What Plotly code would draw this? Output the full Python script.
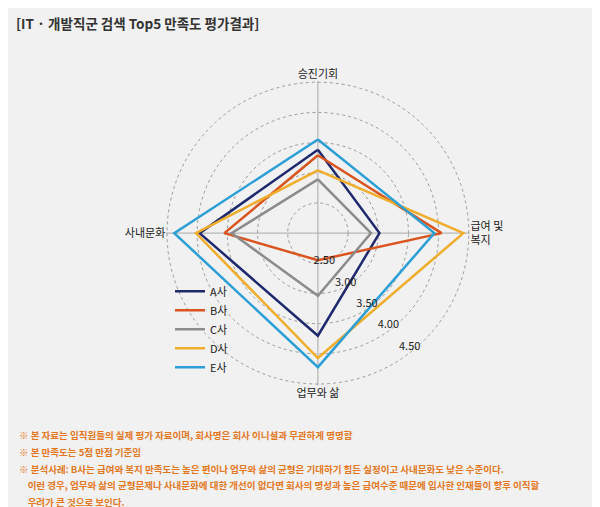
import plotly.graph_objects as go

categories = ["승진기회", "급여 및<br>복지", "업무와 삶", "사내문화"]
companies = ["A사", "B사", "C사", "D사", "E사"]
scores_a = [3.38, 3.02, 3.70, 3.96]
scores_b = [3.29, 4.05, 2.45, 3.55]
scores_c = [2.89, 2.88, 3.04, 3.43]
scores_d = [3.04, 4.41, 4.07, 4.02]
scores_e = [3.55, 3.93, 4.22, 4.38]
colors = ["#1f2a6e", "#d9541e", "#8c8c8c", "#efad2b", "#2b9fd6"]
tick_vals = [2.5, 3.0, 3.5, 4.0, 4.5]
tick_text = ["2.50", "3.00", "3.50", "4.00", "4.50"]
notes = [
    "※ 본 자료는 임직원들의 실제 평가 자료이며, 회사명은 회사 이니셜과 무관하게 명명함",
    "※ 본 만족도는 5점 만점 기준임",
    "※ 분석사례: B사는 급여와 복지 만족도는 높은 편이나 업무와 삶의 균형은 기대하기 힘든 실정이고 사내문화도 낮은 수준이다.",
    "    이런 경우, 업무와 삶의 균형문제나 사내문화에 대한 개선이 없다면 회사의 명성과 높은 급여수준 때문에 입사한 인재들이 향후 이직할",
    "    우려가 큰 것으로 보인다.",
]

fig = go.Figure()
for name, vals, col in zip(companies, [scores_a, scores_b, scores_c, scores_d, scores_e], colors):
    fig.add_trace(go.Scatterpolar(
        r=vals + vals[:1], theta=categories + categories[:1],
        mode="lines", name=name, line=dict(color=col, width=2.5),
    ))

bg = "#f1f1f1"
fig.update_layout(
    width=600, height=507, margin=dict(l=0, r=0, t=0, b=0),
    paper_bgcolor=bg, plot_bgcolor=bg,
    font=dict(family="Noto Sans CJK KR", size=11, color="#222"),
    polar=dict(
        bgcolor=bg,
        domain=dict(x=[0.263, 0.77], y=[0.255, 0.857]),
        angularaxis=dict(rotation=90, direction="clockwise", showline=False,
                         gridcolor="#a8a8a8", gridwidth=1, ticks="",
                         tickfont=dict(size=11, color="#222")),
        radialaxis=dict(range=[2, 4.52], tickvals=tick_vals, ticktext=tick_text,
                        angle=-45, tickangle=-45, showline=False, ticks="",
                        gridcolor="#9a9a9a", griddash="dot",
                        tickfont=dict(size=11, color="#222")),
        gridshape="circular",
    ),
    legend=dict(x=0.27, y=0.47, xanchor="left", yanchor="top",
                bgcolor="rgba(0,0,0,0)", font=dict(size=11), tracegroupgap=0,
                itemwidth=30),
    showlegend=True,
)

fig.add_annotation(x=0.01, y=0.995, xref="paper", yref="paper", xanchor="left", yanchor="top",
                   text="<b>[IT · 개발직군 검색 Top5 만족도 평가결과]</b>", showarrow=False,
                   font=dict(size=13.5, color="#333"))

for i, line in enumerate(notes):
    fig.add_annotation(x=0.015, y=1 - (427 + 16.8 * i) / 507, xref="paper", yref="paper",
                       xanchor="left", yanchor="middle", text="<b>" + line + "</b>",
                       showarrow=False, font=dict(size=9.5, color="#e5781f"))

fig.write_html("out.html")
